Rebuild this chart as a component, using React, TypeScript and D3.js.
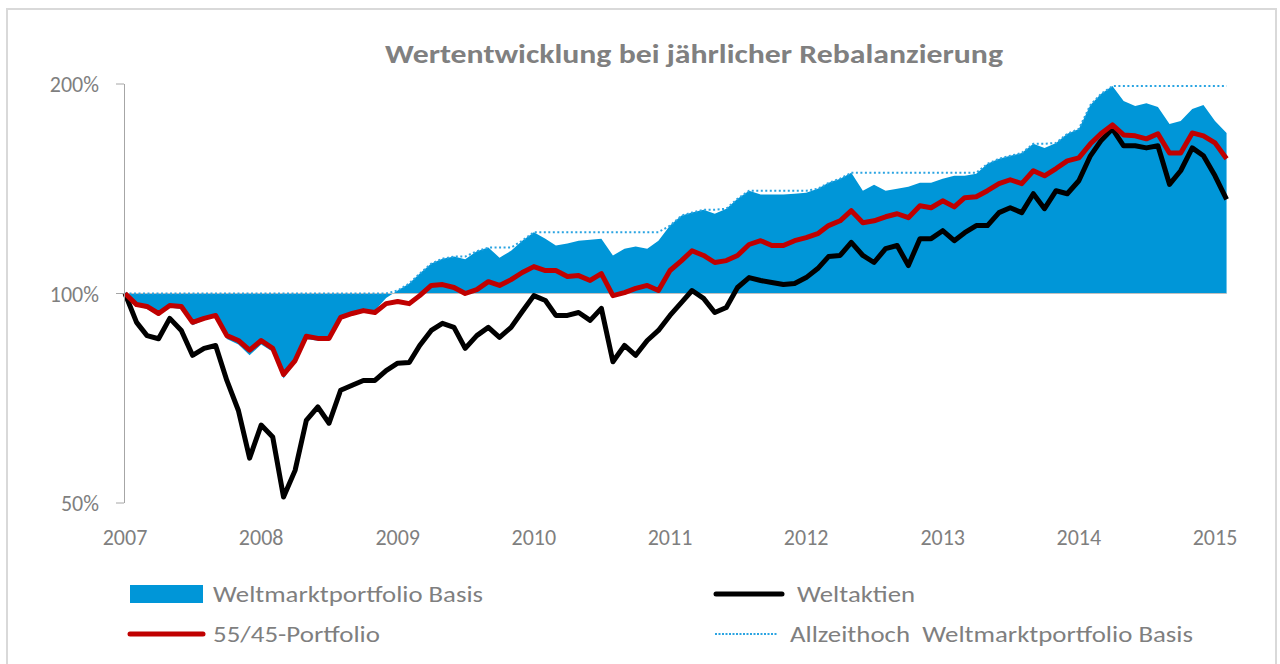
import React from 'react';
import * as d3 from 'd3';

// monthly closes, in % of the start value (2007-01 .. 2015-02)
const weltmarktBasis = [
  100, 96.0, 95.0, 93.0, 95.5, 95.0, 90.0, 91.5, 92.5, 86.0,
  84.5, 81.5, 84.5, 82.5, 75.5, 79.5, 86.0, 85.5, 85.5, 92.0,
  93.5, 94.5, 94.5, 98.5, 101.0, 103.4, 106.8, 110.4, 112.2, 113.0,
  112.0, 115.0, 116.4, 112.6, 115.2, 119.1, 122.5, 119.9, 117.2, 118.0,
  119.1, 119.5, 119.9, 113.4, 116.0, 116.8, 116.0, 119.1, 125.2, 129.4,
  130.7, 131.9, 130.2, 132.4, 136.8, 140.5, 138.7, 138.7, 138.7, 139.1,
  139.6, 141.4, 144.2, 146.2, 149.1, 140.5, 143.3, 140.5, 141.4, 142.4,
  144.2, 144.2, 146.2, 147.6, 147.6, 148.6, 153.6, 156.2, 157.7, 159.2,
  164.1, 161.9, 164.6, 169.6, 172.4, 186.6, 193.5, 198.6, 189.0, 186.0,
  187.7, 185.4, 175.2, 177.0, 184.1, 186.6, 177.0, 170.1
];

const weltaktien = [
  100, 90.9, 87.0, 86.1, 92.1, 88.5, 81.5, 83.4, 84.2, 75.0,
  67.9, 58.0, 64.7, 62.2, 51.0, 55.7, 65.7, 68.7, 65.1, 72.6,
  73.8, 75.0, 75.0, 77.5, 79.4, 79.6, 84.2, 88.5, 90.6, 89.4,
  83.4, 87.0, 89.4, 86.5, 89.4, 94.2, 99.3, 97.7, 93.0, 93.0,
  93.9, 91.5, 95.2, 79.8, 84.2, 81.5, 85.6, 88.5, 93.0, 97.1,
  101.0, 98.4, 93.9, 95.5, 102.0, 105.4, 104.4, 103.7, 103.0, 103.4,
  105.4, 108.6, 113.0, 113.4, 118.4, 113.4, 110.8, 116.0, 117.2, 109.7,
  119.9, 119.9, 123.1, 119.1, 122.3, 125.2, 125.2, 130.7, 132.8, 130.7,
  139.1, 132.4, 140.5, 139.1, 145.2, 157.7, 165.7, 172.4, 163.0, 163.0,
  161.9, 163.0, 143.5, 150.1, 161.9, 157.7, 147.6, 136.5
];

const portfolio5545 = [
  100, 96.4, 95.8, 93.6, 96.1, 95.8, 90.9, 92.1, 93.0, 87.0,
  85.6, 82.9, 85.6, 83.4, 76.5, 80.1, 86.8, 86.2, 86.2, 92.4,
  93.6, 94.5, 93.9, 96.7, 97.4, 96.7, 99.3, 102.7, 103.0, 102.0,
  100.0, 101.3, 104.0, 102.7, 104.7, 107.2, 109.3, 107.9, 107.9, 105.8,
  106.1, 104.4, 106.8, 99.3, 100.3, 101.7, 102.7, 101.0, 107.9, 111.5,
  115.2, 113.4, 110.8, 111.5, 113.4, 117.6, 119.1, 117.2, 117.2, 119.1,
  120.3, 121.9, 125.2, 127.2, 131.5, 126.4, 127.2, 128.9, 130.2, 128.5,
  133.7, 132.8, 135.9, 133.2, 137.3, 137.7, 140.5, 143.8, 145.7, 143.8,
  150.1, 147.6, 151.2, 155.1, 156.6, 164.1, 169.6, 174.7, 169.0, 168.5,
  166.8, 169.6, 159.2, 159.2, 170.1, 168.5, 164.6, 156.2
];

const yTicks = [50, 100, 200];
const title = 'Wertentwicklung bei jährlicher Rebalanzierung';

const months = d3.utcMonth.range(new Date(Date.UTC(2007, 0, 1)), new Date(Date.UTC(2015, 1, 2)));
// Allzeithoch = running maximum of the base portfolio
const allzeithoch = weltmarktBasis.map((v, i) => d3.max(weltmarktBasis.slice(0, i + 1)));

const BLUE = '#0096d8';
const RED = '#c00000';
const DOTS = '#2aa4e2';
const GREY = '#7f7f7f';
const FONT = "Carlito, Calibri, 'Open Sans', sans-serif";

const App = () => {
  const x = d3.scaleUtc()
    .domain([new Date(Date.UTC(2007, 0, 1)), new Date(Date.UTC(2015, 0, 1))])
    .range([125, 1215]);
  const y = d3.scaleLog().domain([50, 200]).range([503, 84]);

  const area = d3.area<number>()
    .x((d, i) => x(months[i]))
    .y0(y(100))
    .y1(d => y(d));
  const line = d3.line<number>()
    .x((d, i) => x(months[i]))
    .y(d => y(d));

  const years = x.ticks(d3.utcYear.every(1));
  const xEnd = x(months[months.length - 1]);

  return (
    <svg width={1280} height={664} style={{ position: 'absolute', left: 0, top: 0 }} fontFamily={FONT}>
      <rect x={7} y={9} width={1269} height={670} fill="#fff" stroke="#d9d9d9" strokeWidth={2} />
      <text x={694} y={63} textAnchor="middle" fontSize={26} fontWeight="bold" fill="#808080"
        textLength={618} lengthAdjust="spacingAndGlyphs">{title}</text>

      <path d={area(weltmarktBasis) || ''} fill={BLUE} />
      <line x1={124} x2={xEnd} y1={y(100)} y2={y(100)} stroke="#bfbfbf" strokeWidth={1} />
      <path d={line(allzeithoch) || ''} fill="none" stroke={DOTS} strokeWidth={2} strokeDasharray="2 2.5" />
      <path d={line(weltaktien) || ''} fill="none" stroke="#000" strokeWidth={5} strokeLinejoin="round" />
      <path d={line(portfolio5545) || ''} fill="none" stroke={RED} strokeWidth={5} strokeLinejoin="round" />

      <g>
        <line x1={124.5} x2={124.5} y1={y(200)} y2={y(50)} stroke="#a6a6a6" />
        {yTicks.map(t => (
          <g key={t}>
            <line x1={116} x2={124} y1={y(t)} y2={y(t)} stroke="#a6a6a6" />
            <text x={99} y={y(t) + 8} textAnchor="end" fontSize={22} fill={GREY}>{`${t}%`}</text>
          </g>
        ))}
      </g>
      <g>
        {years.map(d => (
          <text key={+d} x={x(d)} y={545} textAnchor="middle" fontSize={22} fill={GREY}>
            {d3.utcFormat('%Y')(d)}
          </text>
        ))}
      </g>

      <g fontSize={22} fill={GREY}>
        <rect x={130} y={585} width={73} height={18} fill={BLUE} />
        <text x={213} y={602} textLength={270} lengthAdjust="spacingAndGlyphs">Weltmarktportfolio Basis</text>
        <line x1={130} x2={203} y1={634} y2={634} stroke={RED} strokeWidth={5} strokeLinecap="round" />
        <text x={213} y={642} textLength={167} lengthAdjust="spacingAndGlyphs">55/45-Portfolio</text>
        <line x1={716} x2={782} y1={594} y2={594} stroke="#000" strokeWidth={5} strokeLinecap="round" />
        <text x={797} y={602} textLength={118} lengthAdjust="spacingAndGlyphs">Weltaktien</text>
        <line x1={715} x2={777} y1={634} y2={634} stroke={DOTS} strokeWidth={2} strokeDasharray="2 1.5" />
        <text x={790} y={642} textLength={403} lengthAdjust="spacingAndGlyphs" style={{ whiteSpace: 'pre' }}>
          {'Allzeithoch  Weltmarktportfolio Basis'}
        </text>
      </g>
    </svg>
  );
};

export default App;
